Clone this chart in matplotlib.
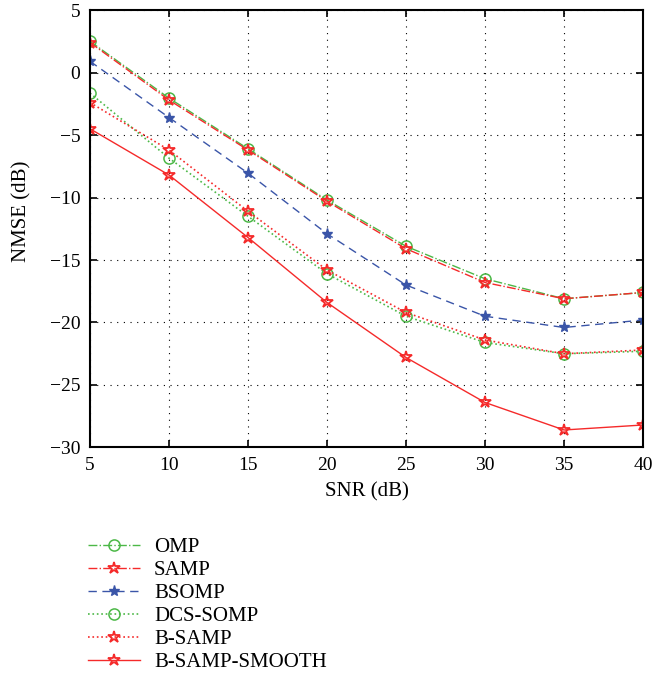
import numpy as np
import matplotlib
matplotlib.use('Agg')
import matplotlib.pyplot as plt

plt.rcParams['font.family'] = ['Liberation Serif', 'DejaVu Serif']

# Data
snr = [5, 10, 15, 20, 25, 30, 35, 40]
omp = [2.5, -2.05, -6.1, -10.2, -13.9, -16.5, -18.1, -17.6]
samp = [2.4, -2.2, -6.2, -10.3, -14.1, -16.8, -18.1, -17.6]
bsomp = [0.9, -3.6, -8.05, -12.9, -17.0, -19.5, -20.4, -19.8]
dcs_somp = [-1.65, -6.85, -11.5, -16.1, -19.5, -21.6, -22.5, -22.3]
b_samp = [-2.4, -6.2, -11.1, -15.8, -19.2, -21.4, -22.5, -22.2]
b_samp_smooth = [-4.5, -8.2, -13.2, -18.4, -22.8, -26.4, -28.6, -28.2]

green = '#4cb847'
red = '#f52a2a'
blue = '#3a55a8'

fig = plt.figure(figsize=(6.54, 6.78), dpi=100)
ax = fig.add_axes([0.1376, 0.3400, 0.8456, 0.6452])

ax.plot(snr, omp, color=green, linestyle='-.', marker='o', mfc='none', ms=8, mew=1.1, lw=1, label='OMP')
ax.plot(snr, samp, color=red, linestyle='-.', marker='*', mfc='none', ms=9, mew=1.3, lw=1, label='SAMP')
ax.plot(snr, bsomp, color=blue, linestyle='--', marker='*', ms=8, mew=1, lw=1, label='BSOMP', dashes=(6, 4))
ax.plot(snr, dcs_somp, color=green, linestyle=':', marker='o', mfc='none', ms=8, mew=1.1, lw=1.2, label='DCS-SOMP')
ax.plot(snr, b_samp, color=red, linestyle=':', marker='*', mfc='none', ms=9, mew=1.3, lw=1.2, label='B-SAMP')
ax.plot(snr, b_samp_smooth, color=red, linestyle='-', marker='*', mfc='none', ms=9, mew=1.3, lw=1, label='B-SAMP-SMOOTH')

ax.set_xlim(5, 40)
ax.set_ylim(-30, 5)
ax.set_xticks(np.arange(5, 41, 5))
ax.set_yticks(np.arange(-30, 6, 5))
ax.set_yticklabels(['\u221230', '\u221225', '\u221220', '\u221215', '\u221210', '\u22125', '0', '5'])
ax.grid(True, color='black', linestyle=(0, (1, 5)), linewidth=0.8)
ax.tick_params(direction='in', labelsize=14, length=5, pad=7, top=True, right=True, width=1.2)
for s in ax.spines.values():
    s.set_linewidth(1.5)
ax.set_xlabel('SNR (dB)', fontsize=15, labelpad=6)
ax.set_ylabel('NMSE (dB)', fontsize=15)
ax.yaxis.set_label_coords(-0.105, 0.54)

handles, labels = ax.get_legend_handles_labels()
fig.legend(handles, labels, loc='upper left', bbox_to_anchor=(0.135, 0.207),
           frameon=False, fontsize=15, handlelength=2.5, labelspacing=0.16,
           handletextpad=0.65, borderaxespad=0, borderpad=0)

fig.savefig('out.png', dpi=100)
